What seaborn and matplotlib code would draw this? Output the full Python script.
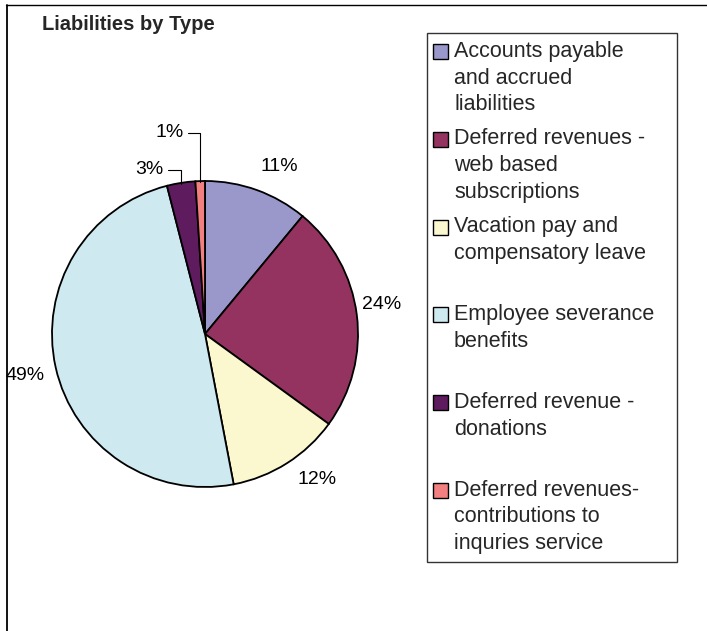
import numpy as np
import matplotlib
matplotlib.use("Agg")
import matplotlib.pyplot as plt
from matplotlib.patches import Rectangle
from matplotlib.lines import Line2D
import seaborn as sns

# Liabilities breakdown (percent of total)
categories = [
    "Accounts payable\nand accrued\nliabilities",
    "Deferred revenues -\nweb based\nsubscriptions",
    "Vacation pay and\ncompensatory leave",
    "Employee severance\nbenefits",
    "Deferred revenue -\ndonations",
    "Deferred revenues-\ncontributions to\ninquries service",
]
shares = [11, 24, 12, 49, 3, 1]
pct_labels = ["11%", "24%", "12%", "49%", "3%", "1%"]
colors = ["#9A98CA", "#943360", "#FBF8D0", "#CEEAF0", "#5E1B5E", "#F28080"]

sns.set_style("white")
plt.rcParams["font.family"] = ["Liberation Sans", "DejaVu Sans"]

W, H = 707, 631
fig = plt.figure(figsize=(W / 100, H / 100), dpi=100)

# pie axes: centre (205, 334) px, radius 153 px
cx, cy, R, half = 205, 334, 153, 175
ax = fig.add_axes([(cx - half) / W, (H - cy - half) / H, 2 * half / W, 2 * half / H])

wedges, _ = ax.pie(
    shares, colors=colors, startangle=90, counterclock=False, radius=1.0,
    wedgeprops=dict(edgecolor="black", linewidth=1.3),
)
ax.set_xlim(-half / R, half / R)
ax.set_ylim(-half / R, half / R)
ax.set_aspect("equal")
ax.axis("off")

# percentage labels, placed around the pie
label_pos = [(0.484, 1.092), (1.157, 0.190), (0.732, -0.954),
             (-1.176, -0.268), (-0.366, 1.072), (-0.229, 1.314)]
for (lx, ly), txt in zip(label_pos, pct_labels):
    ax.text(lx, ly, txt, ha="center", va="center", fontsize=14, color="black")

# leader lines for the two thin slices
cum = np.cumsum([0] + shares)
total = float(sum(shares))
for i, x_start in [(4, -0.245), (5, -0.112)]:
    mid = (cum[i] + cum[i + 1]) / 2 / total * 2 * np.pi
    ex, ey = np.sin(mid), np.cos(mid)
    ly = label_pos[i][1]
    ax.plot([x_start, ex, ex], [ly, ly, ey * 0.995], color="black", lw=0.8,
            clip_on=False)

# title
fig.text(42 / W, 1 - 24 / H, "Liabilities by Type", fontsize=14.5,
         fontweight="bold", ha="left", va="center")

# chart-area border (top and left edges)
fig.add_artist(Line2D([6 / W, 1], [1 - 5 / H, 1 - 5 / H], color="black", lw=1.0))
fig.add_artist(Line2D([6.5 / W, 6.5 / W], [0, 1 - 5 / H], color="black", lw=1.3))

# legend
lx0, ly0, lx1, ly1 = 427, 33, 677, 562
fig.add_artist(Rectangle((lx0 / W, 1 - ly1 / H), (lx1 - lx0) / W, (ly1 - ly0) / H,
                         transform=fig.transFigure, facecolor="white",
                         edgecolor="#333333", lw=1.0))
entry_y0, entry_step, line_step = 51, 87.8, 27
for k, (name, col) in enumerate(zip(categories, colors)):
    yc = entry_y0 + k * entry_step
    fig.add_artist(Rectangle((433 / W, 1 - (yc + 8) / H), 15 / W, 15 / H,
                             transform=fig.transFigure, facecolor=col,
                             edgecolor="black", lw=1.0))
    for j, line in enumerate(name.split("\n")):
        fig.text(454 / W, 1 - (yc + j * line_step) / H, line, fontsize=15.5,
                 ha="left", va="center")

fig.savefig("out.png", dpi=100)
